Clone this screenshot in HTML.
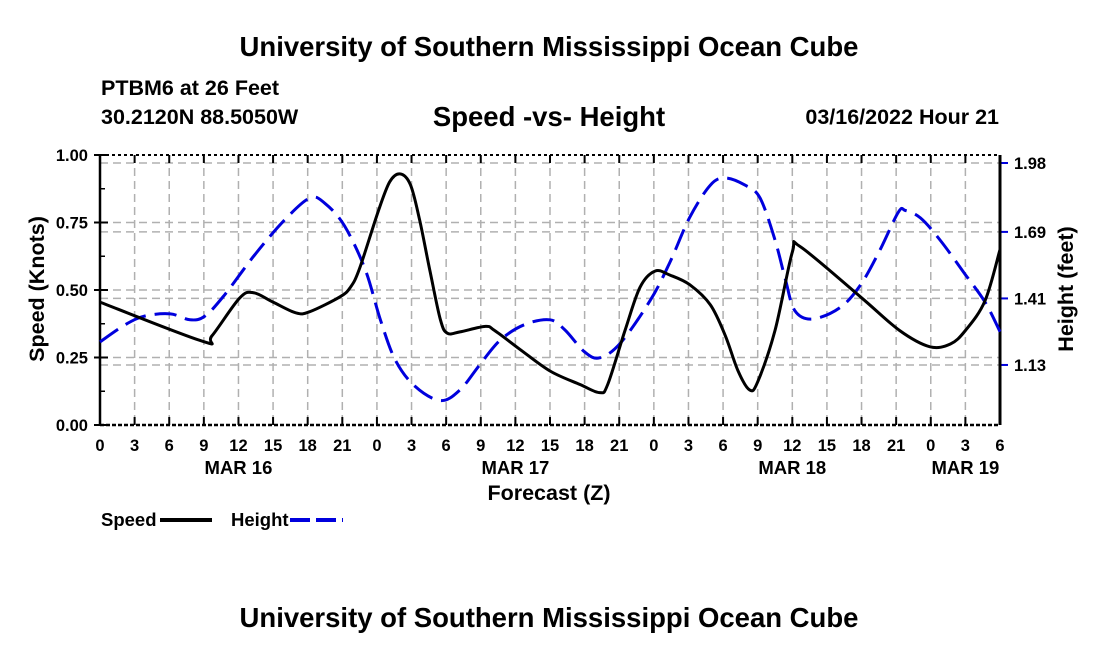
<!DOCTYPE html>
<html><head><meta charset="utf-8"><style>
body{margin:0;background:#fff}
svg text{font-family:"Liberation Sans",sans-serif;font-weight:bold;fill:#000}
</style></head><body>
<svg width="1100" height="650" xmlns="http://www.w3.org/2000/svg">
<text x="549" y="56" font-size="27.5" text-anchor="middle">University of Southern Mississippi Ocean Cube</text>
<text x="101" y="95" font-size="21.5">PTBM6 at 26 Feet</text>
<text x="101" y="124" font-size="21.5">30.2120N  88.5050W</text>
<text x="549" y="126" font-size="27.5" text-anchor="middle">Speed -vs- Height</text>
<text x="999" y="124" font-size="21.5" text-anchor="end">03/16/2022 Hour 21</text>
<text x="549" y="627" font-size="27.5" text-anchor="middle">University of Southern Mississippi Ocean Cube</text>
<g id="grid"></g>
<g id="axes"></g>
<g id="series"></g>
<text x="0" y="0" font-size="21.5" text-anchor="middle" transform="translate(44,289) rotate(-90)">Speed (Knots)</text>
<text x="0" y="0" font-size="21.5" text-anchor="middle" transform="translate(1073,289) rotate(-90)">Height (feet)</text>
<text x="549" y="500" font-size="21.5" text-anchor="middle">Forecast (Z)</text>
<g><text x="101" y="526" font-size="18.5">Speed</text><line x1="160" y1="520" x2="212" y2="520" stroke="#000" stroke-width="4"/></g>
<g><text x="231" y="526" font-size="18.5">Height</text><line x1="290" y1="520" x2="343" y2="520" stroke="#0000dd" stroke-width="4" stroke-dasharray="20,6"/></g>
</svg>
<script>
const speedHours=[0,8.9,9.7,12.1,13.3,15,17,18.2,20.8,21.7,22.5,24.1,25.1,26,26.9,27.7,28.6,29.5,30.1,31.2,33.4,34.2,36.4,39,41.6,43.3,44,45.5,46.8,48.1,49.4,51.1,52.9,54.2,55.3,56.3,57,58.5,60,60.7,65.9,69.3,71.9,73.7,75,76.7,78];
const speedValues=[0.455,0.31,0.33,0.47,0.49,0.455,0.415,0.42,0.475,0.51,0.58,0.79,0.9,0.93,0.89,0.76,0.57,0.39,0.34,0.345,0.365,0.35,0.28,0.2,0.15,0.12,0.15,0.35,0.51,0.57,0.555,0.52,0.445,0.33,0.2,0.13,0.16,0.35,0.64,0.66,0.475,0.35,0.29,0.3,0.35,0.46,0.65];
const heightHours=[0,2.2,3.9,6.1,7.8,9.1,10.8,13.4,16,18.2,19.5,21.2,23,24.3,25.6,27.3,29.5,31.2,32.9,34.7,36.8,39,40.3,42,43.3,45.1,47.7,49.4,51.1,52.9,54.2,55.9,57.2,58.5,59.4,60.2,61.7,64.1,65.9,67.6,69.2,69.8,71.1,72.8,75,76.7,78];
const heightValues=[1.227,1.3,1.336,1.345,1.32,1.336,1.425,1.593,1.74,1.833,1.81,1.715,1.53,1.32,1.15,1.04,0.98,1.025,1.13,1.235,1.3,1.32,1.277,1.185,1.16,1.222,1.403,1.563,1.75,1.887,1.917,1.887,1.833,1.656,1.49,1.36,1.323,1.37,1.466,1.614,1.774,1.78,1.749,1.656,1.51,1.395,1.27];
const speedTicks=["0.00","0.25","0.50","0.75","1.00"];
const heightTicks=["1.13","1.41","1.69","1.98"];
const xTickLabels=["0","3","6","9","12","15","18","21","0","3","6","9","12","15","18","21","0","3","6","9","12","15","18","21","0","3","6"];
const dayLabels=["MAR 16","MAR 17","MAR 18","MAR 19"];
const dayHours=[12,36,60,75];

const L=100,R=1000,T=155,B=425,HMAX=78;
const xs=h=>L+(R-L)*h/HMAX;
const ys=v=>B-(B-T)*v;
const yh=v=>163+(1.98-v)*237.6;
const NS="http://www.w3.org/2000/svg";
function mk(p,tag,a){const e=document.createElementNS(NS,tag);for(const k in a)e.setAttribute(k,a[k]);p.appendChild(e);return e;}
const grid=document.getElementById('grid'),axes=document.getElementById('axes'),ser=document.getElementById('series');
const gs={stroke:"#b0b0b0","stroke-width":1.5,"stroke-dasharray":"8,5"};
xTickLabels.forEach((t,i)=>{const x=xs(i*3);
 if(i>0&&i<xTickLabels.length-1){const g=mk(grid,'line',Object.assign({x1:x,x2:x,y1:T,y2:B},gs));}
 mk(axes,'line',{x1:x,x2:x,y1:B,y2:B-8,stroke:"#000","stroke-width":2});
 mk(axes,'line',{x1:x,x2:x,y1:T,y2:T+8,stroke:"#000","stroke-width":2});
 const tx=mk(axes,'text',{x:x,y:B+26,"font-size":16.5,"text-anchor":"middle"});tx.textContent=t;
 });
dayLabels.forEach((d,i)=>{const tx=mk(axes,'text',{x:xs(dayHours[i]),y:474,"font-size":18.5,"text-anchor":"middle"});tx.textContent=d;
 });
speedTicks.forEach((t,i)=>{const y=ys(+t);
 if(i>0&&i<4){const g=mk(grid,'line',Object.assign({x1:L,x2:R,y1:y,y2:y},gs));}
 mk(axes,'line',{x1:L-6,x2:L+8,y1:y,y2:y,stroke:"#000","stroke-width":2});
 const tx=mk(axes,'text',{x:88,y:y+6,"font-size":16.5,"text-anchor":"end"});tx.textContent=t;
 });
for(let v=0.125;v<1;v+=0.25)mk(axes,'line',{x1:L,x2:L+5,y1:ys(v),y2:ys(v),stroke:"#000","stroke-width":1.5});
heightTicks.forEach(t=>{const y=yh(+t);
 const g=mk(grid,'line',Object.assign({x1:L,x2:R,y1:y,y2:y},gs));
 mk(axes,'line',{x1:R,x2:R+8,y1:y,y2:y,stroke:"#0000dd","stroke-width":2});
 const tx=mk(axes,'text',{x:1014,y:y+6,"font-size":16.5});tx.textContent=t;
 });
mk(axes,'line',{x1:L,x2:L,y1:T,y2:B,stroke:"#000","stroke-width":2.5});
mk(axes,'line',{x1:R,x2:R,y1:T,y2:B,stroke:"#000","stroke-width":3});
mk(axes,'line',{x1:L,x2:R,y1:T,y2:T,stroke:"#000","stroke-width":2,"stroke-dasharray":"3,3"});
mk(axes,'line',{x1:L,x2:R,y1:B,y2:B,stroke:"#000","stroke-width":2.5,"stroke-dasharray":"4,2"});
function path(hs,vs,fy){
 const p=hs.map((h,i)=>[xs(h),fy(vs[i])]);
 let d="M"+p[0][0].toFixed(1)+","+p[0][1].toFixed(1);
 for(let i=0;i<p.length-1;i++){
  const p0=p[Math.max(0,i-1)],p1=p[i],p2=p[i+1],p3=p[Math.min(p.length-1,i+2)];
  const c1=[p1[0]+(p2[0]-p0[0])/6,p1[1]+(p2[1]-p0[1])/6],c2=[p2[0]-(p3[0]-p1[0])/6,p2[1]-(p3[1]-p1[1])/6];
  d+="C"+c1[0].toFixed(1)+","+c1[1].toFixed(1)+" "+c2[0].toFixed(1)+","+c2[1].toFixed(1)+" "+p2[0].toFixed(1)+","+p2[1].toFixed(1);
 }
 return d;}
const hp=mk(ser,'path',{d:path(heightHours,heightValues,yh),fill:"none",stroke:"#0000dd","stroke-width":3,"stroke-dasharray":"22,9","stroke-linejoin":"round"});

const sp=mk(ser,'path',{d:path(speedHours,speedValues,ys),fill:"none",stroke:"#000","stroke-width":3,"stroke-linejoin":"round"});

</script>
</body></html>
